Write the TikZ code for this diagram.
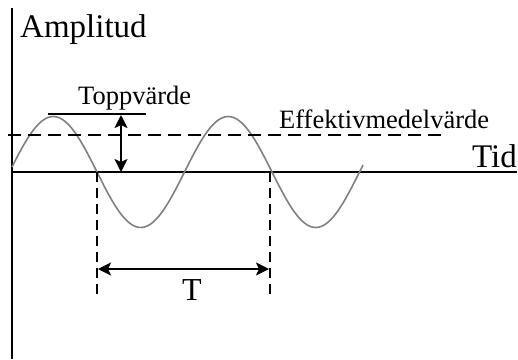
\documentclass[tikz,border=0pt]{standalone}
\usepackage{fontspec}
\setmainfont{Liberation Serif}
\usetikzlibrary{positioning,arrows.meta,calc}

\begin{document}
\begin{tikzpicture}[
  x=1pt,y=-1pt,
  >={Stealth[length=13pt,width=13pt,inset=3pt]},
  axis/.style ={draw=black,line width=2pt},
  wave/.style ={draw=black!50,line width=1.6pt},
  rms/.style  ={draw=black,line width=1.6pt,dash pattern=on 13pt off 7pt},
  perline/.style ={draw=black,line width=1.4pt,dash pattern=on 10pt off 6pt},
  dim/.style  ={<->,draw=black,line width=2pt},
  big/.style  ={font=\fontsize{33pt}{33pt}\selectfont,inner sep=0pt},
  small/.style={font=\fontsize{26.5pt}{26.5pt}\selectfont,inner sep=0pt},
]
\useasboundingbox (0,0) rectangle (518,359);

% ===================== Axes ==============================================
\coordinate (Atop) at (12,8);
\coordinate (Abot) at (12,359);
\coordinate (O)    at (12,172);
\coordinate (Tend) at (517,172);
\draw[axis] (Atop) -- (Abot);
\draw[axis] (O) -- (Tend);

\node[big,anchor=base west] (amp) at (20,37) {Amplitud};
\node[big,anchor=base east] (tid) at (517,167) {Tid};

% ===================== Signal ============================================
\draw[wave] plot[domain=12:363,samples=120,smooth]
  (\x,{172-55.5*sin(2.0571*(\x-9.5))});

% Effective value, dashed
\coordinate (Ea) at (8,135);
\coordinate (Eb) at (442,135);
\draw[rms] (Ea) -- (Eb);
\node[small,anchor=base west] (eff) at (279,128) {Effektivmedelvärde};

% ===================== Peak value ========================================
\coordinate (Pa) at (48,114);
\coordinate (Pb) at (146,114);
\draw[line width=2pt] (Pa) -- (Pb);
\node[small,anchor=base west] (topp) at (78,104) {Toppvärde};

\coordinate (Pt) at (121,115);
\coordinate (Pz) at (121,172);
\draw[dim] (Pt) -- (Pz);

% ===================== Period ============================================
\coordinate (Z1) at (97,172);
\coordinate (Z2) at (270,172);
\coordinate (Z1d) at (97,296);
\coordinate (Z2d) at (270,296);
\draw[perline] (Z1) -- (Z1d);
\draw[perline] (Z2) -- (Z2d);

\coordinate (D1) at (97,269);
\coordinate (D2) at (270,269);
\draw[dim,shorten <=1pt,shorten >=1pt] (D1) -- (D2);
\node[big,anchor=base,font=\fontsize{32pt}{32pt}\selectfont] (per) at (192,300) {T};

\end{tikzpicture}
\end{document}
